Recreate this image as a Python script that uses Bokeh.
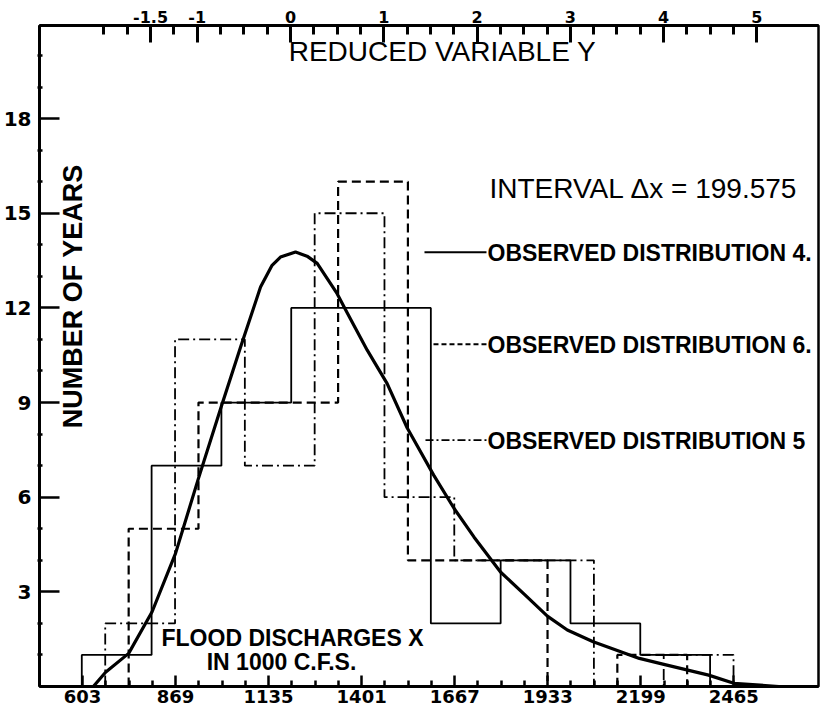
import math
from bokeh.plotting import figure
from bokeh.models import Range1d, LinearAxis, FixedTicker, NumeralTickFormatter, Label
from bokeh.embed import file_html
from bokeh.resources import INLINE

# ---------------- data ----------------
bin_width = 199.575

dist4_start = 601.0
dist4_counts = [1, 7, 9, 12, 12, 2, 4, 2, 1]

dist5_start = 668.0
dist5_counts = [2, 11, 7, 15, 6, 4, 4, 0, 1]

dist6_start = 735.0
dist6_counts = [5, 9, 9, 16, 4, 4, 0, 1]

curve_x = [634, 669, 735, 802, 869, 933, 998, 1055, 1112, 1145, 1169, 1212, 1245,
           1274, 1331, 1360, 1417, 1474, 1531, 1607, 1665, 1722, 1798, 1874, 1932,
           1989, 2063, 2195, 2265, 2393, 2465, 2594]
curve_y = [0.0, 0.45, 1.05, 2.37, 4.22, 6.54, 8.81, 10.76, 12.66, 13.35, 13.61, 13.77,
           13.64, 13.41, 12.45, 11.84, 10.66, 9.60, 8.20, 6.70, 5.65, 4.74, 3.63, 2.84,
           2.23, 1.79, 1.42, 0.89, 0.70, 0.36, 0.10, 0.0]

x_ticks = [603, 869, 1135, 1401, 1667, 1933, 2199, 2465]
y_ticks = [3, 6, 9, 12, 15, 18]
reduced_ticks = [-1.5, -1, 0, 1, 2, 3, 4, 5]

# reduced variable Y = (x - origin) / scale
reduced_origin = 1197.6
reduced_scale = 266.7

# ---------------- figure ----------------
X0, X1 = 480.1, 2707.1
Y0, Y1 = 0.0, 20.95

p = figure(width=822, height=710, x_range=Range1d(X0, X1), y_range=Range1d(Y0, Y1),
           output_backend="svg", toolbar_location=None,
           min_border_left=39, min_border_right=4, min_border_top=25, min_border_bottom=24)
p.background_fill_color = "white"
p.border_fill_color = "white"
p.xgrid.visible = False
p.ygrid.visible = False
p.outline_line_color = "black"
p.outline_line_width = 2.5

TICK_FONT = "DejaVu Sans"
TEXT_FONT = "Liberation Sans"

# bottom axis
minor_x = []
for a, b in zip(x_ticks[:-1], x_ticks[1:]):
    for k in range(1, 4):
        minor_x.append(a + (b - a) * k / 4)
xa = p.xaxis[0]
xa.ticker = FixedTicker(ticks=x_ticks, minor_ticks=minor_x)
xa.axis_line_width = 3
xa.axis_line_color = "black"
xa.major_tick_in = 11
xa.major_tick_out = 0
xa.major_tick_line_width = 2.5
xa.major_tick_line_color = "black"
xa.minor_tick_in = 6
xa.minor_tick_out = 0
xa.minor_tick_line_width = 2.5
xa.minor_tick_line_color = "black"
xa.major_label_text_font = TICK_FONT
xa.major_label_text_font_style = "bold"
xa.major_label_text_font_size = "18px"
xa.major_label_text_color = "black"
xa.major_label_standoff = 3

# left axis
minor_y = [v for v in range(1, 21) if v not in y_ticks]
ya = p.yaxis[0]
ya.ticker = FixedTicker(ticks=y_ticks, minor_ticks=minor_y)
ya.axis_line_width = 3
ya.axis_line_color = "black"
ya.major_tick_in = 20
ya.major_tick_out = 0
ya.major_tick_line_width = 2.5
ya.major_tick_line_color = "black"
ya.minor_tick_in = 3
ya.minor_tick_out = 2
ya.minor_tick_line_width = 2.5
ya.minor_tick_line_color = "black"
ya.major_label_text_font = TICK_FONT
ya.major_label_text_font_style = "bold"
ya.major_label_text_font_size = "20px"
ya.major_label_text_color = "black"
ya.major_label_standoff = 6

# top axis: reduced variable
p.extra_x_ranges = {"reduced": Range1d((X0 - reduced_origin) / reduced_scale,
                                       (X1 - reduced_origin) / reduced_scale)}
minor_r = [-2 + 0.25 * k for k in range(29) if (-2 + 0.25 * k) not in reduced_ticks]
ta = LinearAxis(x_range_name="reduced",
                ticker=FixedTicker(ticks=reduced_ticks, minor_ticks=minor_r),
                formatter=NumeralTickFormatter(format="0.[0]"))
ta.axis_line_width = 3
ta.axis_line_color = "black"
ta.major_tick_in = 17
ta.major_tick_out = 0
ta.major_tick_line_width = 3
ta.major_tick_line_color = "black"
ta.minor_tick_in = 9
ta.minor_tick_out = 0
ta.minor_tick_line_width = 3
ta.minor_tick_line_color = "black"
ta.major_label_text_font = TICK_FONT
ta.major_label_text_font_style = "bold"
ta.major_label_text_font_size = "16px"
ta.major_label_text_color = "black"
ta.major_label_standoff = 3
p.add_layout(ta, "above")


# ---------------- histograms (step outlines) ----------------
def step_outline(start, counts):
    xs, ys = [start], [0]
    for i, c in enumerate(counts):
        a = start + i * bin_width
        xs += [a, a + bin_width]
        ys += [c, c]
    xs.append(start + len(counts) * bin_width)
    ys.append(0)
    return xs, ys


sx, sy = step_outline(dist4_start, dist4_counts)
p.line(sx, sy, line_color="black", line_width=1.8)
sx, sy = step_outline(dist6_start, dist6_counts)
p.line(sx, sy, line_color="black", line_width=2.2, line_dash="9 5")
sx, sy = step_outline(dist5_start, dist5_counts)
p.line(sx, sy, line_color="black", line_width=1.8, line_dash="11 4 2 4")

# theoretical curve
p.line(curve_x, curve_y, line_color="black", line_width=3.2, line_join="round")


# ---------------- annotations ----------------
def dx(px):
    return 603 + (px - 82) / 0.3498


def dy(py):
    return (686.5 - py) / 31.57


def add_text(px, py, text, size, style="normal", align="left", angle=0.0):
    p.add_layout(Label(x=dx(px), y=dy(py), text=text, text_font=TEXT_FONT,
                       text_font_size=size, text_font_style=style, text_align=align,
                       text_baseline="middle", angle=angle, text_color="black"))


add_text(442, 51, "REDUCED VARIABLE Y", "28px", align="center")
add_text(489, 188, "INTERVAL \u0394x = 199.575", "28px")
add_text(487, 253, "OBSERVED DISTRIBUTION 4.", "23px", "bold")
add_text(487, 345, "OBSERVED DISTRIBUTION 6.", "23px", "bold")
add_text(487, 441, "OBSERVED DISTRIBUTION 5", "23px", "bold")
add_text(292, 638, "FLOOD DISCHARGES X", "23px", "bold", "center")
add_text(281, 662, "IN 1000 C.F.S.", "23px", "bold", "center")
add_text(73, 296, "NUMBER OF YEARS", "27px", "bold", "center", math.pi / 2)

# legend sample lines
p.line([dx(424), dx(486)], [dy(252), dy(252)], line_color="black", line_width=2)
p.line([dx(433), dx(486)], [dy(344), dy(344)], line_color="black", line_width=2, line_dash="5 3")
p.line([dx(425), dx(486)], [dy(440), dy(440)], line_color="black", line_width=1.8, line_dash="8 3 2 3")

open("out.html", "w").write(file_html(p, INLINE))
